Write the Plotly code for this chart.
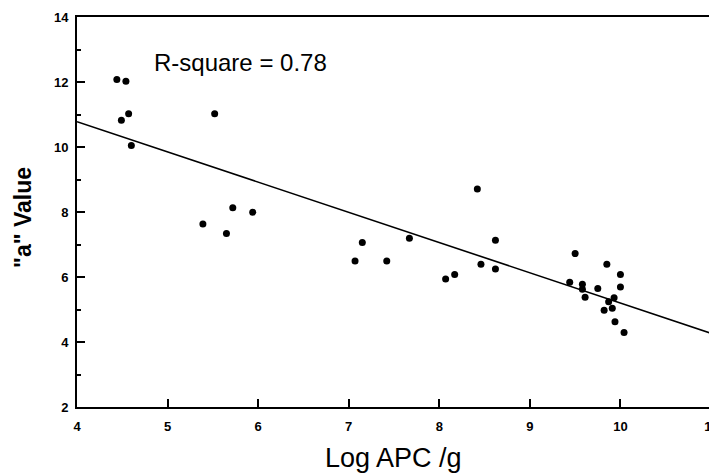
import plotly.graph_objects as go

# Data
log_apc = [4.44, 4.54, 4.57, 4.49, 4.60, 5.52,
           5.72, 5.94, 5.39, 5.65,
           7.15, 7.67, 7.07, 7.42,
           8.42, 8.62, 8.07, 8.17, 8.46, 8.62,
           9.50, 9.85, 10.00, 9.44, 9.58, 9.58, 9.75, 10.00,
           9.61, 9.93, 9.87, 9.82, 9.91, 9.94, 10.04]
a_value = [12.08, 12.02, 11.02, 10.82, 10.05, 11.02,
           8.13, 7.99, 7.63, 7.34,
           7.06, 7.19, 6.49, 6.49,
           8.71, 7.13, 5.94, 6.08, 6.39, 6.25,
           6.72, 6.39, 6.08, 5.84, 5.78, 5.62, 5.65, 5.69,
           5.38, 5.36, 5.24, 4.98, 5.04, 4.62, 4.29]

fit_x = [4.0, 11.0]
fit_y = [10.78, 4.27]

x_ticks = [4, 5, 6, 7, 8, 9, 10, 11]
y_ticks = [2, 4, 6, 8, 10, 12, 14]
y_minor = [3, 5, 7, 9, 11, 13]

FONT = "Liberation Sans, Arial, Helvetica, sans-serif"

fig = go.Figure()
fig.add_trace(go.Scatter(x=fit_x, y=fit_y, mode="lines",
                         line=dict(color="black", width=1.6),
                         hoverinfo="skip", showlegend=False))
fig.add_trace(go.Scatter(x=log_apc, y=a_value, mode="markers",
                         marker=dict(color="black", size=7),
                         showlegend=False))

axis_common = dict(showline=True, linecolor="black", linewidth=2, mirror=True,
                   ticks="inside", ticklen=8, tickwidth=2, tickcolor="black",
                   showgrid=False, zeroline=False, automargin=False,
                   ticklabeloverflow="allow",
                   tickfont=dict(family=FONT, size=13, color="black", weight="bold"))

fig.update_xaxes(range=[4, 11], tickvals=x_ticks, ticktext=[str(v) for v in x_ticks],
                 ticklabelstandoff=6, **axis_common)
fig.update_yaxes(range=[2, 14], tickvals=y_ticks, ticktext=[str(v) for v in y_ticks],
                 minor=dict(ticks="inside", ticklen=4, tickwidth=2, tickcolor="black",
                            tickvals=y_minor),
                 ticklabelstandoff=4, **axis_common)

# the page body adds an 8px offset, so the figure is 8px smaller and margins shifted
fig.update_layout(
    width=709, height=467,
    margin=dict(l=69, r=6, t=9, b=68, autoexpand=False),
    paper_bgcolor="white", plot_bgcolor="white",
    annotations=[
        dict(text="R-square = 0.78", x=(240 - 77) / 634, y=(407 - 62) / 390,
             xref="paper", yref="paper", showarrow=False,
             xanchor="center", yanchor="middle",
             font=dict(family=FONT, size=24, color="black")),
        dict(text='"a" Value', x=(23 - 77) / 634, y=(407 - 218) / 390,
             xref="paper", yref="paper", showarrow=False, textangle=-90,
             xanchor="center", yanchor="middle",
             font=dict(family=FONT, size=23, color="black", weight="bold")),
        dict(text="Log APC /g", x=(393 - 77) / 634, y=(407 - 458) / 390,
             xref="paper", yref="paper", showarrow=False,
             xanchor="center", yanchor="middle",
             font=dict(family=FONT, size=27, color="black")),
    ],
)

fig.write_html("out.html")
